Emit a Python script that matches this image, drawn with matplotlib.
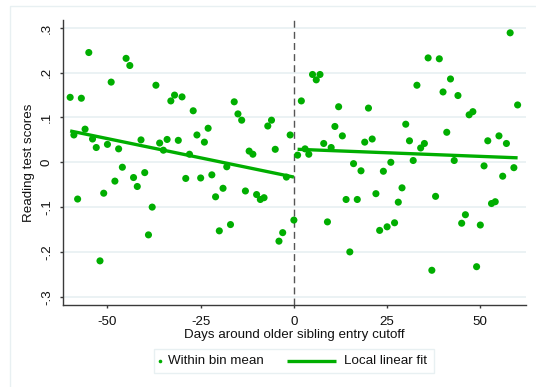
import matplotlib
matplotlib.use("Agg")
import matplotlib.pyplot as plt
from matplotlib.patches import Rectangle
from matplotlib.lines import Line2D

plt.rcParams['font.family'] = ['Liberation Sans', 'DejaVu Sans']

# Bin means: days relative to the cutoff and the mean reading score per day
days_left = list(range(-60, 0))
scores_left = [
    0.145, 0.061, -0.082, 0.143, 0.074, 0.245, 0.052, 0.033, -0.220, -0.069,
    0.040, 0.179, -0.042, 0.030, -0.011, 0.232, 0.216, -0.034, -0.054, 0.050,
    -0.023, -0.162, -0.100, 0.172, 0.043, 0.027, 0.051, 0.137, 0.150, 0.049,
    0.146, -0.036, 0.018, 0.115, 0.061, -0.035, 0.045, 0.076, -0.028, -0.077,
    -0.153, -0.058, -0.010, -0.139, 0.135, 0.108, 0.094, -0.064, 0.025, 0.018,
    -0.072, -0.083, -0.079, 0.081, 0.094, 0.029, -0.176, -0.157, -0.033, 0.061,
]
days_right = list(range(0, 61))
scores_right = [
    -0.129, 0.016, 0.137, 0.030, 0.018, 0.196, 0.184, 0.196, 0.042, -0.133,
    0.033, 0.080, 0.124, 0.059, -0.083, -0.200, -0.003, -0.083, -0.019, 0.045,
    0.121, 0.052, -0.070, -0.152, -0.020, -0.144, 0.000, -0.135, -0.089, -0.057,
    0.085, 0.048, 0.004, 0.172, 0.032, 0.042, 0.233, -0.241, -0.076, 0.231,
    0.157, 0.067, 0.186, 0.004, 0.149, -0.136, -0.117, 0.106, 0.113, -0.233,
    -0.140, -0.008, 0.048, -0.092, -0.088, 0.059, -0.031, 0.042, 0.289, -0.012,
    0.128,
]

# Local linear fit on each side of the cutoff (end points)
fit_left_x = [-60, 0]
fit_left_y = [0.070, -0.033]
fit_right_x = [1, 60]
fit_right_y = [0.029, 0.010]

x_ticks = [-50, -25, 0, 25, 50]
x_tick_labels = ["-50", "-25", "0", "25", "50"]
y_ticks = [-0.3, -0.2, -0.1, 0.0, 0.1, 0.2, 0.3]
y_tick_labels = ["-.3", "-.2", "-.1", "0", ".1", ".2", ".3"]
legend_labels = ["Within bin mean", "Local linear fit"]

GREEN = "#00AE00"
AXIS = "#3a3a3a"
GRID = "#E8F0F2"
TEXT = "#111111"
FS = 9.6

W, H = 536, 387
fig = plt.figure(figsize=(W / 100, H / 100), dpi=100)
fig.patch.set_facecolor("white")


def fx(px):
    return px / W


def fy(py):
    return 1 - py / H


# light outer frame of the graph region
fig.patches.append(Rectangle((fx(10), -0.1), 1.2, fy(6) + 0.1,
                             transform=fig.transFigure, fill=False,
                             edgecolor=GRID, linewidth=1.0))

ax = fig.add_axes([fx(62.7), fy(305), (526 - 62.7) / W, (305 - 20) / H])
ax.set_facecolor("white")

ax.set_xlim(-62.0, 62.25)
ax.set_ylim(-0.3185, 0.3176)

for yv in y_ticks:
    ax.axhline(yv, color=GRID, linewidth=1.2, zorder=0)

ax.axvline(0, color="#555555", linewidth=1.0, linestyle=(0, (5, 3)), zorder=1)

ax.scatter(days_left, scores_left, s=26, color=GREEN, edgecolors="none", zorder=3)
ax.scatter(days_right, scores_right, s=26, color=GREEN, edgecolors="none", zorder=3)
ax.plot(fit_left_x, fit_left_y, color=GREEN, linewidth=2.4, zorder=4,
        solid_capstyle="butt")
ax.plot(fit_right_x, fit_right_y, color=GREEN, linewidth=2.4, zorder=4,
        solid_capstyle="butt")

for side in ("top", "right"):
    ax.spines[side].set_visible(False)
for side in ("left", "bottom"):
    ax.spines[side].set_color(AXIS)
    ax.spines[side].set_linewidth(1.0)

ax.set_xticks(x_ticks)
ax.set_xticklabels(x_tick_labels, fontsize=FS)
ax.set_yticks(y_ticks)
ax.set_yticklabels(y_tick_labels, fontsize=FS, rotation=90, va="center")
ax.tick_params(axis="both", direction="out", length=2.5, width=1.0,
               color=AXIS, labelcolor=TEXT)
ax.tick_params(axis="x", pad=5.5)
ax.tick_params(axis="y", pad=4.5)

ax.set_xlabel("Days around older sibling entry cutoff", fontsize=FS,
              color=TEXT, labelpad=0.5)
ax.set_ylabel("Reading test scores", fontsize=FS, color=TEXT, labelpad=4)

# legend below the plot, laid out in pixel positions
leg_y = fy(361)
fig.patches.append(Rectangle((fx(154), fy(373)), (434 - 154) / W, (373 - 349) / H,
                             transform=fig.transFigure, fill=True,
                             facecolor="white", edgecolor=GRID, linewidth=1.0))
fig.lines.append(Line2D([fx(160)], [leg_y], transform=fig.transFigure,
                        linestyle="none", marker="o", markersize=2.6,
                        color=GREEN, markeredgewidth=0))
fig.text(fx(168), leg_y, legend_labels[0], fontsize=FS, color=TEXT,
         va="center", ha="left")
fig.lines.append(Line2D([fx(287), fx(336)], [leg_y, leg_y],
                        transform=fig.transFigure, color=GREEN, linewidth=2.4,
                        solid_capstyle="butt"))
fig.text(fx(344), leg_y, legend_labels[1], fontsize=FS, color=TEXT,
         va="center", ha="left")

fig.savefig("out.png", dpi=100, facecolor="white")
